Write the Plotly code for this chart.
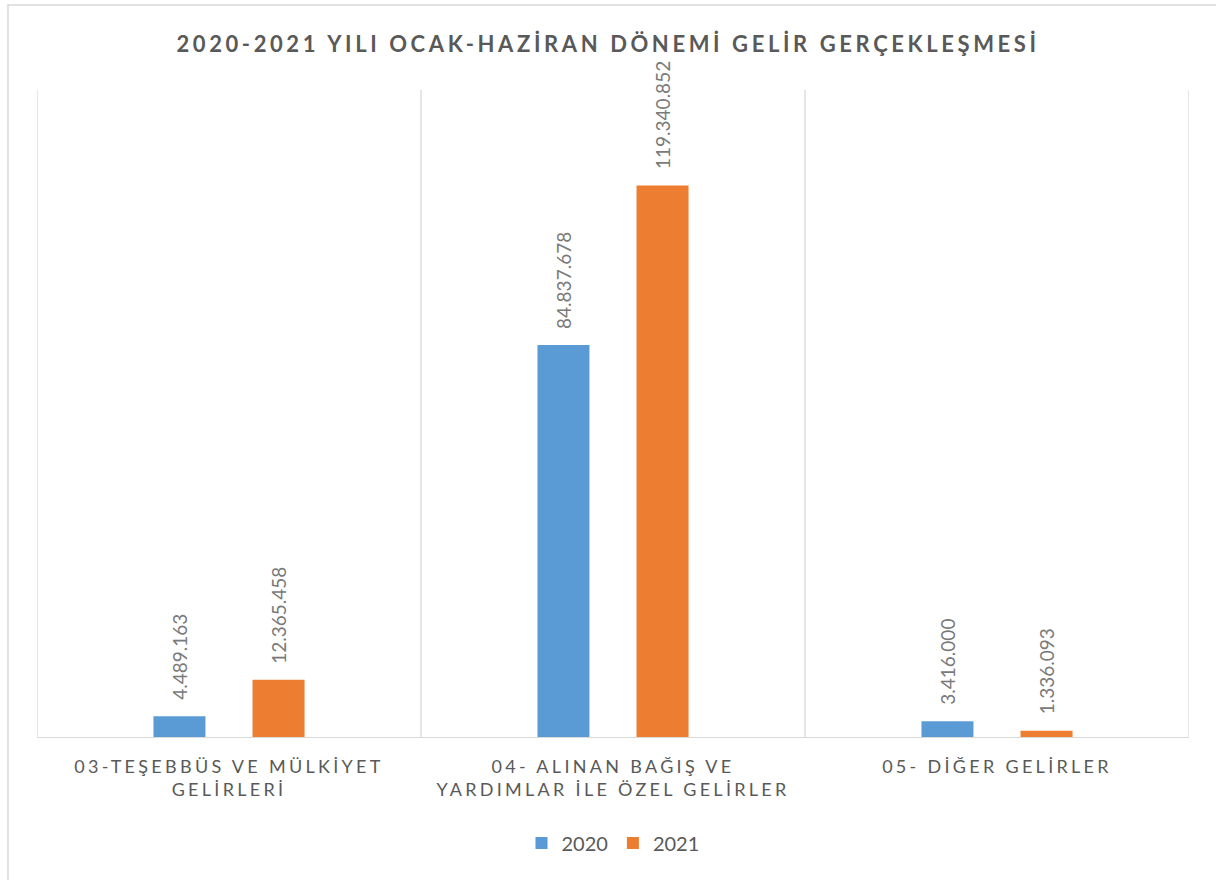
import plotly.graph_objects as go

categories = ["03-TEŞEBBÜS VE MÜLKİYET GELİRLERİ",
              "04- ALINAN BAĞIŞ VE YARDIMLAR İLE ÖZEL GELİRLER",
              "05- DİĞER GELİRLER"]
category_lines = [["03-TEŞEBBÜS VE MÜLKİYET", "GELİRLERİ"],
                  ["04- ALINAN BAĞIŞ VE", "YARDIMLAR İLE ÖZEL GELİRLER"],
                  ["05- DİĞER GELİRLER"]]
series_names = ["2020", "2021"]
values_2020 = [4489163, 84837678, 3416000]
values_2021 = [12365458, 119340852, 1336093]
title_text = "2020-2021 YILI OCAK-HAZİRAN DÖNEMİ GELİR GERÇEKLEŞMESİ"

BLUE = "#5B9BD5"
ORANGE = "#ED7D31"
GRAY = "#595959"
LABEL_GRAY = "#7A7A7A"
GRID = "#D9D9D9"
FONT = "Lato"

def spaced(s, px):
    return f'<span style="letter-spacing:{px}px">{s}</span>'

fig = go.Figure()
for name, vals, col in [(series_names[0], values_2020, BLUE),
                        (series_names[1], values_2021, ORANGE)]:
    fig.add_trace(go.Bar(x=categories, y=vals, name=name,
                         marker=dict(color=col, line=dict(width=0)),
                         hoverinfo="x+y"))

# data labels
for vals, shift in [(values_2020, -49.5), (values_2021, 49.5)]:
    for c, v in zip(categories, vals):
        lbl = f"{v:,}".replace(",", ".")
        fig.add_annotation(x=c, y=v, xref="x", yref="y", text=lbl,
                           showarrow=False, textangle=-90,
                           xshift=shift, yshift=14, yanchor="bottom",
                           font=dict(family=FONT, size=19, color=LABEL_GRAY))

ticktext = ["<br>".join(spaced(l, 3.3) for l in lines) for lines in category_lines]

# vertical category boundary gridlines
shapes = []
for b in [-0.5, 0.5, 1.5, 2.5]:
    shapes.append(dict(type="line", xref="x", yref="paper", x0=b, x1=b,
                       y0=0, y1=1, line=dict(color=GRID, width=1.3), layer="below"))
# outer chart frame
shapes.append(dict(type="rect", xref="paper", yref="paper",
                   x0=-0.0252, x1=1.2, y0=-0.5, y1=1.1314,
                   line=dict(color=GRID, width=1.5), layer="below"))

fig.update_layout(
    width=1216, height=880,
    margin=dict(l=37, r=27, t=90, b=143),
    paper_bgcolor="white", plot_bgcolor="white",
    barmode="group", bargap=0.484, bargroupgap=0.475,
    title=dict(text=spaced(title_text, 3.6), x=0.5, xref="container",
               y=1 - 44 / 880, yref="container", xanchor="center", yanchor="middle",
               font=dict(family=FONT, size=22, color=GRAY, weight="bold")),
    xaxis=dict(tickmode="array", tickvals=categories, ticktext=ticktext,
               showgrid=False, showline=True, linecolor=GRID, linewidth=1.3,
               ticks="", ticklabelstandoff=13,
               tickfont=dict(family=FONT, size=18, color=GRAY),
               range=[-0.5, 2.5], fixedrange=True),
    yaxis=dict(range=[0, 140000000], showgrid=False, showticklabels=False,
               zeroline=False, showline=False, fixedrange=True),
    legend=dict(orientation="h", x=0.5, xanchor="center", y=-0.164, yanchor="middle",
                font=dict(family=FONT, size=20, color=GRAY), itemwidth=30,
                traceorder="normal"),
    shapes=shapes,
    showlegend=True,
)

fig.write_html("out.html", config={"displayModeBar": False},
               post_script="document.body.style.margin='0';document.body.style.overflow='hidden';")
